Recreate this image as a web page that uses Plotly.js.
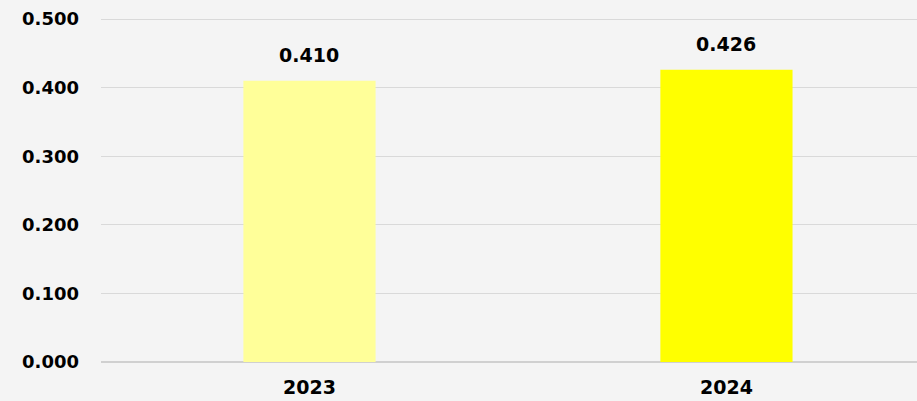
<!DOCTYPE html>
<html><head><meta charset="utf-8">
<script src="https://cdn.plot.ly/plotly-3.0.1.min.js"></script>
<style>html,body{margin:0;padding:0;background:#f4f4f4;}#chart{width:917px;height:401px;}</style>
</head><body><div id="chart"></div>
<script>
const categories = ['2023', '2024'];
const values = [0.410, 0.426];
const barColors = ['#FFFF99', '#FFFF00'];
const valueLabels = ['0.410', '0.426'];
const yTicks = [0, 0.1, 0.2, 0.3, 0.4, 0.5];
const yTickLabels = ['0.000', '0.100', '0.200', '0.300', '0.400', '0.500'];

const fam = 'DejaVu Sans, sans-serif';

const data = [{
  type: 'bar', x: categories, y: values,
  marker: {color: barColors},
  width: 0.317, hoverinfo: 'none'
}];

const annotations = categories.map((c, i) => ({
  x: i, y: values[i], xref: 'x', yref: 'y', text: '<b>' + valueLabels[i] + '</b>',
  showarrow: false, yanchor: 'bottom', yshift: 13,
  font: {family: fam, size: 19, color: '#000'}
}));

const layout = {
  width: 917, height: 401,
  margin: {l: 101, r: 0, t: 0, b: 39},
  paper_bgcolor: '#f4f4f4', plot_bgcolor: 'rgba(0,0,0,0)',
  showlegend: false,
  xaxis: {
    type: 'category', range: [-0.5, 1.457],
    showgrid: false, zeroline: false, showline: false,
    tickfont: {family: fam, size: 19, color: '#000', weight: 'bold'},
    ticks: '', ticklabelstandoff: 12
  },
  yaxis: {
    range: [0, 0.5277], tickvals: yTicks, ticktext: yTickLabels,
    showgrid: true, gridcolor: '#d9d9d9', gridwidth: 1,
    zeroline: true, zerolinecolor: '#d0d0d0', zerolinewidth: 1.5,
    showline: false, ticks: '', ticklabelstandoff: 21,
    tickfont: {family: fam, size: 18, color: '#000', weight: 'bold'}
  },
  annotations: annotations
};

Plotly.newPlot('chart', data, layout, {staticPlot: true, displayModeBar: false});
</script>
</body></html>
